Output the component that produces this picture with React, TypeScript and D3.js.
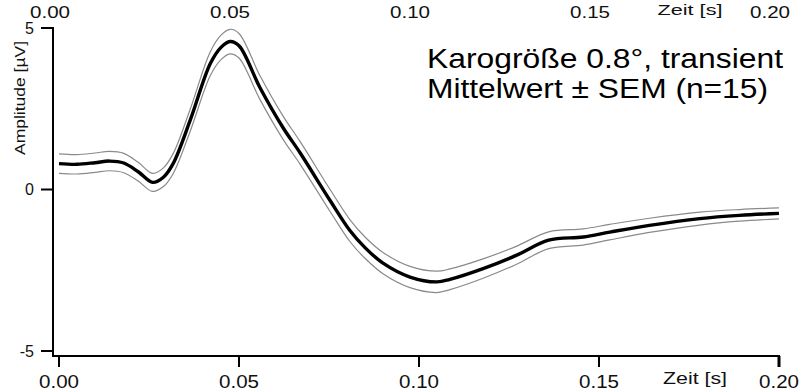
import React from "react";
import * as d3 from "d3";

const times: number[] = [
  0, 0.005, 0.01, 0.014, 0.018, 0.022, 0.026, 0.029, 0.0317, 0.0364, 0.042, 0.045,
  0.0475, 0.05, 0.0558, 0.0622, 0.067, 0.0753, 0.0808, 0.085, 0.09, 0.0975, 0.105,
  0.1086, 0.118, 0.127, 0.136, 0.1456, 0.153, 0.164, 0.178, 0.189, 0.2,
];
const meanValues: number[] = [
  0.8, 0.78, 0.83, 0.88, 0.82, 0.55, 0.22, 0.38, 0.8, 2.13, 3.89, 4.4,
  4.58, 4.45, 3.16, 1.92, 1.13, -0.34, -1.27, -1.8, -2.28, -2.71, -2.86,
  -2.78, -2.44, -2.04, -1.57, -1.47, -1.32, -1.11, -0.9, -0.8, -0.74,
];
const semValues: number[] = [
  0.3, 0.3, 0.3, 0.3, 0.3, 0.29, 0.28, 0.29, 0.31, 0.34, 0.37, 0.38,
  0.38, 0.38, 0.37, 0.36, 0.35, 0.34, 0.34, 0.33, 0.33, 0.33, 0.33,
  0.32, 0.3, 0.28, 0.26, 0.25, 0.24, 0.22, 0.2, 0.18, 0.17,
];
const xTicks: number[] = [0, 0.05, 0.1, 0.15, 0.2];
const yTicks: number[] = [5, 0, -5];
const xAxisLabel = "Zeit [s]";
const yAxisLabel = "Amplitude [µV]";
const titleLines: string[] = ["Karogröße 0.8°, transient", "Mittelwert ± SEM (n=15)"];

export default function App() {
  const W = 801;
  const H = 391;
  const x = d3.scaleLinear().domain([0, 0.2]).range([59, 779]);
  const y = d3.scaleLinear().domain([-5, 5]).range([351, 28]);
  const font = "'Liberation Sans', Arial, sans-serif";

  const pts = times.map((t, i) => ({ t, m: meanValues[i], s: semValues[i] }));
  const mk = (f: (d: any) => number) =>
    d3
      .line<any>()
      .x((d) => x(d.t))
      .y((d) => y(f(d)))
      .curve(d3.curveCatmullRom.alpha(0.5))(pts) as string;

  const fmt = d3.format(".2f");
  const axisY = 356;
  const axisX = 53;

  return (
    <svg
      width={W}
      height={H}
      style={{ position: "absolute", left: 0, top: 0, background: "#fff" }}
      fontFamily={font}
    >
      <path d={mk((d) => d.m + d.s)} fill="none" stroke="#8a8a8a" strokeWidth={1.2} />
      <path d={mk((d) => d.m - d.s)} fill="none" stroke="#8a8a8a" strokeWidth={1.2} />
      <path d={mk((d) => d.m)} fill="none" stroke="#000" strokeWidth={3.4} />

      <line x1={axisX} x2={axisX} y1={27} y2={axisY + 1} stroke="#000" strokeWidth={2} />
      <line x1={axisX - 1} x2={x(0.2) + 1} y1={axisY} y2={axisY} stroke="#000" strokeWidth={2} />
      {yTicks.map((v) => (
        <g key={"y" + v}>
          <line x1={41} x2={axisX} y1={y(v)} y2={y(v)} stroke="#000" strokeWidth={2} />
          <text x={34} y={y(v) + 5.5} textAnchor="end" fontSize={16} fill="#111">
            {v < 0 ? "-" + Math.abs(v) : String(v)}
          </text>
        </g>
      ))}
      {xTicks.map((t) => (
        <g key={"x" + t}>
          <line x1={x(t)} x2={x(t)} y1={axisY} y2={367} stroke="#000" strokeWidth={t === 0.2 ? 3 : 2} />
          <text
            x={x(t)}
            y={388}
            textAnchor="middle"
            fontSize={17.5}
            textLength={40}
            lengthAdjust="spacingAndGlyphs"
            fill="#111"
          >
            {fmt(t)}
          </text>
          <text
            x={x(t) - 9}
            y={18}
            textAnchor="middle"
            fontSize={16}
            textLength={40}
            lengthAdjust="spacingAndGlyphs"
            fill="#111"
          >
            {fmt(t)}
          </text>
        </g>
      ))}
      <text x={695} y={384} textAnchor="middle" fontSize={16} textLength={64} lengthAdjust="spacingAndGlyphs" fill="#111">
        {xAxisLabel}
      </text>
      <text x={690} y={15} textAnchor="middle" fontSize={15} textLength={65} lengthAdjust="spacingAndGlyphs" fill="#111">
        {xAxisLabel}
      </text>
      <text
        transform={`translate(25,98) rotate(-90)`}
        textAnchor="middle"
        fontSize={15}
        textLength={114}
        lengthAdjust="spacingAndGlyphs"
        fill="#111"
      >
        {yAxisLabel}
      </text>
      <text x={427} y={68} fontSize={27.5} textLength={356} lengthAdjust="spacingAndGlyphs" fill="#000">
        {titleLines[0]}
      </text>
      <text x={427} y={98} fontSize={27.5} textLength={341} lengthAdjust="spacingAndGlyphs" fill="#000">
        {titleLines[1]}
      </text>
    </svg>
  );
}
